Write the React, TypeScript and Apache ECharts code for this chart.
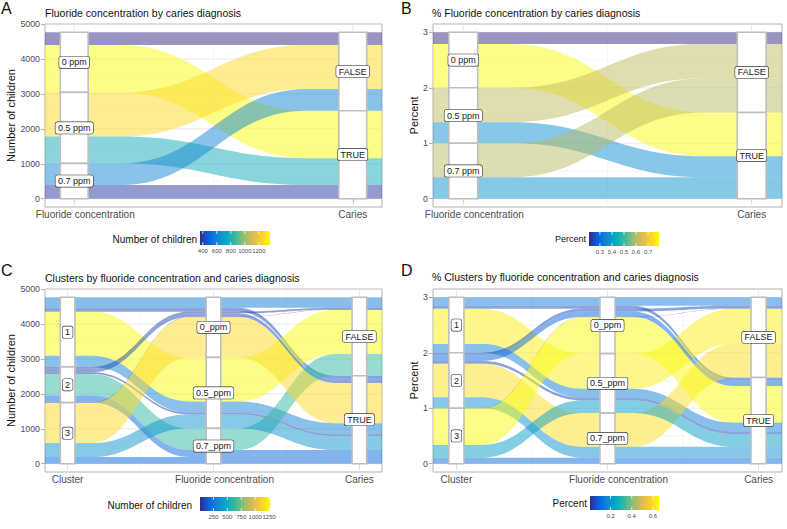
import React, { useEffect, useRef } from "react";
import * as echarts from "echarts";

// ---------- data ----------
const clusterNames = ["1", "2", "3"];
const fluorideNamesA = ["0 ppm", "0.5 ppm", "0.7 ppm"];
const fluorideNamesC = ["0_ppm", "0.5_ppm", "0.7_ppm"];
const cariesNames = ["FALSE", "TRUE"];

// number of children per fluoride level (0, 0.5, 0.7 ppm): [caries FALSE, caries TRUE]
const cluster1Counts = [[300, 110], [1265, 320], [0, 0]];
const cluster2Counts = [[50, 100], [0, 50], [620, 200]];
const cluster3Counts = [[10, 1150], [0, 400], [0, 190]];

const countTicks = [0, 1000, 2000, 3000, 4000, 5000];
const percentTicks = [0, 1, 2, 3];
const legendTicksA = [400, 600, 800, 1000, 1200];
const legendTicksB = [0.3, 0.4, 0.5, 0.6, 0.7];
const legendTicksC = [250, 500, 750, 1000, 1250];
const legendTicksD = [0.2, 0.4, 0.6];

const parula = ["#352A87", "#0363E1", "#1485D4", "#06A7C6", "#38B99E", "#92BF73", "#D9BA56", "#FCCE2E", "#F9FB0E"];

const FONT = '"Liberation Sans", Arial, Helvetica, sans-serif';

// ---------- helpers ----------
function hexToRgb(h: string) {
  return [parseInt(h.slice(1, 3), 16), parseInt(h.slice(3, 5), 16), parseInt(h.slice(5, 7), 16)];
}
function parulaColor(t: number, alpha: number) {
  const tt = Math.max(0, Math.min(1, t)) * (parula.length - 1);
  const i = Math.min(parula.length - 2, Math.floor(tt));
  const f = tt - i;
  const a = hexToRgb(parula[i]);
  const b = hexToRgb(parula[i + 1]);
  const c = a.map((v, k) => Math.round(v + (b[k] - v) * f));
  return `rgba(${c[0]},${c[1]},${c[2]},${alpha})`;
}

type Alluvium = { strata: number[]; value: number; fill: number };

const clusterCounts = [cluster1Counts, cluster2Counts, cluster3Counts];

const alluviaA: Alluvium[] = [];
const alluviaB: Alluvium[] = [];
for (let f = 0; f < 3; f++) {
  const nF = clusterCounts.reduce((s, k) => s + k[f][0], 0);
  const nT = clusterCounts.reduce((s, k) => s + k[f][1], 0);
  const tot = nF + nT;
  [nF, nT].forEach((n, c) => {
    alluviaA.push({ strata: [f, c], value: n, fill: n });
    alluviaB.push({ strata: [f, c], value: n / tot, fill: n / tot });
  });
}
const alluviaC: Alluvium[] = [];
const alluviaD: Alluvium[] = [];
clusterCounts.forEach((k, ki) => {
  const tot = k.reduce((s, r) => s + r[0] + r[1], 0);
  k.forEach((row, f) =>
    row.forEach((n, c) => {
      if (n > 0) {
        alluviaC.push({ strata: [ki, f, c], value: n, fill: n });
        alluviaD.push({ strata: [ki, f, c], value: n / tot, fill: n / tot });
      }
    })
  );
});

function layoutAlluvia(alluvia: Alluvium[], nStrata: number[], order: number[][]) {
  const total = alluvia.reduce((s, a) => s + a.value, 0);
  const pos: number[][] = alluvia.map(() => []);
  const strata: { axis: number; idx: number; bottom: number; top: number }[] = [];
  nStrata.forEach((ns, i) => {
    let cursor = total;
    for (let s = 0; s < ns; s++) {
      const members = alluvia
        .map((a, j) => j)
        .filter((j) => alluvia[j].strata[i] === s)
        .sort((p, q) => {
          for (const ax of order[i]) {
            const d = alluvia[p].strata[ax] - alluvia[q].strata[ax];
            if (d !== 0) return d;
          }
          return 0;
        });
      const top = cursor;
      members.forEach((j) => {
        pos[j][2 * i] = cursor - alluvia[j].value;
        pos[j][2 * i + 1] = cursor;
        cursor -= alluvia[j].value;
      });
      strata.push({ axis: i, idx: s, bottom: cursor, top });
    }
  });
  return { pos, strata, total };
}

const HALF_FLOW = 1 / 6;
const HALF_STRATUM = 0.05;

function flowRenderer(nAxes: number, colors: string[]) {
  return (params: any, api: any) => {
    const k = 0.45;
    const steps = 28;
    const bots: number[] = [];
    const tops: number[] = [];
    for (let i = 0; i < nAxes; i++) {
      bots.push(api.value(2 * i));
      tops.push(api.value(2 * i + 1));
    }
    const edge = (ys: number[]) => {
      const pts: number[][] = [];
      for (let i = 0; i < nAxes; i++) {
        const xl = i + 1 - HALF_FLOW;
        const xr = i + 1 + HALF_FLOW;
        if (i === 0) pts.push(api.coord([xl, ys[i]]));
        else {
          const xa = i + HALF_FLOW;
          const xb = xl;
          const d = xb - xa;
          const ya = ys[i - 1];
          const yb = ys[i];
          for (let s = 1; s <= steps; s++) {
            const t = s / steps;
            const u = 1 - t;
            const x = u * u * u * xa + 3 * u * u * t * (xa + k * d) + 3 * u * t * t * (xb - k * d) + t * t * t * xb;
            const y = u * u * u * ya + 3 * u * u * t * ya + 3 * u * t * t * yb + t * t * t * yb;
            pts.push(api.coord([x, y]));
          }
        }
        pts.push(api.coord([xr, ys[i]]));
      }
      return pts;
    };
    const top = edge(tops);
    const bot = edge(bots).reverse();
    return {
      type: "polygon",
      shape: { points: top.concat(bot) },
      style: { fill: colors[params.dataIndex], stroke: "none" },
    };
  };
}

function strataRenderer(labels: string[]) {
  return (params: any, api: any) => {
    const x = api.value(0);
    const b = api.value(1);
    const t = api.value(2);
    const p1 = api.coord([x - HALF_STRATUM, t]);
    const p2 = api.coord([x + HALF_STRATUM, b]);
    const c = api.coord([x, (b + t) / 2]);
    return {
      type: "group",
      children: [
        {
          type: "rect",
          shape: { x: p1[0], y: p1[1], width: p2[0] - p1[0], height: p2[1] - p1[1] },
          style: { fill: "#ffffff", stroke: "#bfbfbf", lineWidth: 1.6 },
        },
        {
          type: "text",
          x: c[0],
          y: c[1],
          style: {
            text: labels[params.dataIndex],
            align: "center",
            verticalAlign: "middle",
            fontSize: 9,
            fontFamily: FONT,
            fill: "#1a1a1a",
            backgroundColor: "#ffffff",
            borderColor: "#333333",
            borderWidth: 0.6,
            borderRadius: 2,
            padding: [1.5, 2.5, 1, 2.5],
          },
        },
      ],
    };
  };
}

function gridRenderer() {
  return (params: any, api: any) => {
    const cs = params.coordSys;
    const o = api.value(0);
    const v = api.value(1);
    const major = api.value(2);
    const style = { stroke: major ? "#e6e6e6" : "#f1f1f1", lineWidth: major ? 0.9 : 0.6 };
    if (o === 0) {
      const y = api.coord([1, v])[1];
      return { type: "line", shape: { x1: cs.x, y1: y, x2: cs.x + cs.width, y2: y }, style };
    }
    const x = api.coord([v, 0])[0];
    return { type: "line", shape: { x1: x, y1: cs.y, x2: x, y2: cs.y + cs.height }, style };
  };
}

function colorbarRenderer(ticks: number[]) {
  return (params: any, api: any) => {
    const cs = params.coordSys;
    const grad = new echarts.graphic.LinearGradient(
      0, 0, 1, 0,
      parula.map((c, i) => ({ offset: i / (parula.length - 1), color: c }))
    );
    const tl = cs.height / 5;
    const children: any[] = [
      { type: "rect", shape: { x: cs.x, y: cs.y, width: cs.width, height: cs.height }, style: { fill: grad } },
    ];
    ticks.forEach((t) => {
      const x = api.coord([t, 0])[0];
      children.push({ type: "line", shape: { x1: x, y1: cs.y, x2: x, y2: cs.y + tl }, style: { stroke: "#fff", lineWidth: 0.8 } });
      children.push({ type: "line", shape: { x1: x, y1: cs.y + cs.height - tl, x2: x, y2: cs.y + cs.height }, style: { stroke: "#fff", lineWidth: 0.8 } });
      children.push({
        type: "text",
        x,
        y: cs.y + cs.height + 3,
        style: {
          text: String(t),
          align: "center",
          verticalAlign: "top",
          fontSize: 6,
          fontFamily: FONT,
          fill: "#4d4d4d",
        },
      });
    });
    return { type: "group", children };
  };
}

type PanelSpec = {
  grid: any;
  cb: any;
  alluvia: Alluvium[];
  strataNames: string[][];
  axisNames: string[];
  yTicks: number[];
  yName: string;
  nameGap: number;
  cbTicks: number[];
};

const panels: PanelSpec[] = [
  {
    grid: { left: 45, top: 24, width: 337, height: 183 },
    cb: { left: 200, top: 231, width: 70, height: 14 },
    alluvia: alluviaA,
    strataNames: [fluorideNamesA, cariesNames],
    axisNames: ["Fluoride concentration", "Caries"],
    yTicks: countTicks,
    yName: "Number of children",
    nameGap: 27,
    cbTicks: legendTicksA,
  },
  {
    grid: { left: 433, top: 24, width: 349, height: 183 },
    cb: { left: 589, top: 232, width: 70, height: 14 },
    alluvia: alluviaB,
    strataNames: [fluorideNamesA, cariesNames],
    axisNames: ["Fluoride concentration", "Caries"],
    yTicks: percentTicks,
    yName: "Percent",
    nameGap: 10,
    cbTicks: legendTicksB,
  },
  {
    grid: { left: 45, top: 289, width: 337, height: 183 },
    cb: { left: 200, top: 497, width: 70, height: 14 },
    alluvia: alluviaC,
    strataNames: [clusterNames, fluorideNamesC, cariesNames],
    axisNames: ["Cluster", "Fluoride concentration", "Caries"],
    yTicks: countTicks,
    yName: "Number of children",
    nameGap: 27,
    cbTicks: legendTicksC,
  },
  {
    grid: { left: 433, top: 289, width: 349, height: 183 },
    cb: { left: 590, top: 496, width: 69, height: 14 },
    alluvia: alluviaD,
    strataNames: [clusterNames, fluorideNamesC, cariesNames],
    axisNames: ["Cluster", "Fluoride concentration", "Caries"],
    yTicks: percentTicks,
    yName: "Percent",
    nameGap: 6,
    cbTicks: legendTicksD,
  },
];

function buildOption() {
  const grids: any[] = [];
  const xAxes: any[] = [];
  const yAxes: any[] = [];
  const series: any[] = [];

  panels.forEach((p) => {
    const nAxes = p.strataNames.length;
    const order = nAxes === 2 ? [[1], [0]] : [[1, 2], [0, 2], [1, 0]];
    const { pos, strata, total } = layoutAlluvia(p.alluvia, p.strataNames.map((s) => s.length), order);
    const span = nAxes - 1 + 2 * HALF_STRATUM;
    const xMin = 1 - HALF_STRATUM - 0.05 * span;
    const xMax = nAxes + HALF_STRATUM + 0.05 * span;
    const yMin = -0.05 * total;
    const yMax = 1.05 * total;
    const fills = p.alluvia.map((a) => a.fill);
    const fMin = Math.min(...fills);
    const fMax = Math.max(...fills);
    const colors = p.alluvia.map((a) => parulaColor((a.fill - fMin) / (fMax - fMin), 0.5));
    const axisPositions = p.axisNames.map((_, i) => i + 1);

    const gi = grids.length;
    grids.push({ ...p.grid, show: true, borderColor: "#b3b3b3", borderWidth: 1, backgroundColor: "#ffffff" });
    xAxes.push({
      gridIndex: gi,
      type: "value",
      min: xMin,
      max: xMax,
      axisLine: { show: false },
      splitLine: { show: false },
      axisTick: { show: true, customValues: axisPositions, length: 4, lineStyle: { color: "#b3b3b3" } },
      axisLabel: {
        customValues: axisPositions,
        showMinLabel: true,
        showMaxLabel: true,
        margin: 2,
        fontSize: 10,
        lineHeight: 11,
        color: "#4d4d4d",
        fontFamily: FONT,
        formatter: (v: number) => {
          const name = p.axisNames[Math.round(v) - 1];
          return name === "Fluoride concentration" ? `{s|${name}}` : name;
        },
        rich: { s: { padding: [0, 0, 0, 22], fontSize: 10, color: "#4d4d4d", fontFamily: FONT } },
      },
    });
    yAxes.push({
      gridIndex: gi,
      type: "value",
      min: yMin,
      max: yMax,
      axisLine: { show: false },
      splitLine: { show: false },
      axisTick: { show: true, customValues: p.yTicks, length: 4, lineStyle: { color: "#b3b3b3" } },
      axisLabel: {
        customValues: p.yTicks,
        showMinLabel: true,
        showMaxLabel: true,
        margin: 5,
        fontSize: 8.8,
        color: "#4d4d4d",
        fontFamily: FONT,
        formatter: (v: number) => String(v),
      },
      name: p.yName,
      nameLocation: "middle",
      nameGap: p.nameGap,
      nameTextStyle: { fontSize: 11, color: "#111", fontFamily: FONT },
    });

    // grid lines
    const gridData: number[][] = [];
    p.yTicks.forEach((t, i) => {
      gridData.push([0, t, 1]);
      if (i > 0) gridData.push([0, (t + p.yTicks[i - 1]) / 2, 0]);
    });
    axisPositions.forEach((x, i) => {
      gridData.push([1, x, 1]);
      if (i > 0) gridData.push([1, x - 0.5, 0]);
    });
    series.push({
      type: "custom",
      xAxisIndex: gi,
      yAxisIndex: gi,
      silent: true,
      z: 1,
      renderItem: gridRenderer(),
      data: gridData,
    });
    series.push({
      type: "custom",
      xAxisIndex: gi,
      yAxisIndex: gi,
      silent: true,
      clip: true,
      z: 2,
      renderItem: flowRenderer(nAxes, colors),
      data: pos,
    });
    series.push({
      type: "custom",
      xAxisIndex: gi,
      yAxisIndex: gi,
      silent: true,
      z: 3,
      renderItem: strataRenderer(strata.map((s) => p.strataNames[s.axis][s.idx])),
      data: strata.map((s) => [s.axis + 1, s.bottom, s.top]),
    });

    // colour bar
    const ci = grids.length;
    grids.push({ ...p.cb });
    xAxes.push({
      gridIndex: ci,
      type: "value",
      min: fMin,
      max: fMax,
      axisLine: { show: false },
      axisTick: { show: false },
      splitLine: { show: false },
      axisLabel: { show: false },
    });
    yAxes.push({ gridIndex: ci, type: "value", min: 0, max: 1, show: false });
    series.push({
      type: "custom",
      xAxisIndex: ci,
      yAxisIndex: ci,
      silent: true,
      renderItem: colorbarRenderer(p.cbTicks),
      data: [[fMin, 0.5]],
    });
  });

  const t = (text: string, pos: any, fontSize: number, lineHeight: number) => ({
    text,
    ...pos,
    padding: 0,
    textStyle: { fontSize, lineHeight, fontWeight: "normal", color: "#111", fontFamily: FONT },
  });

  return {
    animation: false,
    backgroundColor: "#ffffff",
    textStyle: { fontFamily: FONT },
    title: [
      t("A", { left: 1, top: 0 }, 16, 16),
      t("B", { left: 401, top: 0 }, 16, 16),
      t("C", { left: 1, top: 262 }, 16, 16),
      t("D", { left: 401, top: 262 }, 16, 16),
      t("Fluoride concentration by caries diagnosis", { left: 45, top: 7 }, 10.5, 12),
      t("% Fluoride concentration by caries diagnosis", { left: 432, top: 7 }, 10.5, 12),
      t("Clusters by fluoride concentration and caries diagnosis", { left: 45, top: 272 }, 10.5, 12),
      t("% Clusters by fluoride concentration and caries diagnosis", { left: 432, top: 271 }, 10.5, 12),
      t("Number of children", { right: 590, top: 233 }, 10, 12),
      t("Percent", { right: 201, top: 234 }, 9, 10),
      t("Number of children", { right: 595, top: 499 }, 10, 12),
      t("Percent", { right: 200, top: 497 }, 10, 12),
    ],
    grid: grids,
    xAxis: xAxes,
    yAxis: yAxes,
    series,
  };
}

export default function App() {
  const ref = useRef<HTMLDivElement>(null);
  useEffect(() => {
    document.body.style.margin = "0";
    const chart = echarts.init(ref.current as HTMLDivElement, null, { renderer: "svg" });
    chart.setOption(buildOption() as any);
    return () => chart.dispose();
  }, []);
  return (
    <div
      ref={ref}
      style={{ position: "fixed", left: 0, top: 0, width: 787, height: 529, background: "#fff" }}
    />
  );
}
